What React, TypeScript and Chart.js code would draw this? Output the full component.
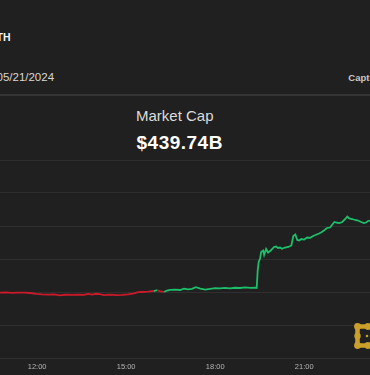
import React, { useEffect, useRef } from "react";
import Chart from "chart.js/auto";

// minutes since midnight on 05/21/2024
const times = [
  645, 657, 669, 681, 694, 706, 718, 730, 742, 754, 766, 778, 791, 803, 815, 823, 831, 839, 847, 855,
  867, 880, 892, 904, 916, 924, 932, 944, 956, 963, 969, 977, 981, 989, 999, 1009, 1017, 1025, 1033, 1041,
  1050, 1060, 1070, 1080, 1090, 1100, 1110, 1120, 1130, 1141, 1151, 1161, 1164, 1166, 1168, 1171, 1173, 1177, 1179, 1183,
  1187, 1191, 1195, 1199, 1203, 1207, 1211, 1215, 1221, 1228, 1234, 1238, 1242, 1246, 1250, 1254, 1260, 1266, 1272, 1278,
  1284, 1290, 1294, 1300, 1306, 1312, 1316, 1321, 1325, 1331, 1337, 1343, 1347, 1351, 1357, 1363, 1369, 1375, 1381, 1385,
  1389, 1393,
];

// market cap, billions USD
const caps = [
  428.89, 428.94, 428.86, 428.92, 428.91, 428.85, 428.73, 428.65, 428.61, 428.64, 428.5, 428.58, 428.56, 428.61, 428.56, 428.71, 428.61, 428.73, 428.67, 428.53,
  428.59, 428.52, 428.55, 428.64, 428.8, 428.97, 429.0, 429.06, 429.15, 429.27, 429.09, 429.01, 429.18, 429.33, 429.36, 429.3, 429.52, 429.41, 429.48, 429.73,
  429.52, 429.36, 429.47, 429.58, 429.55, 429.61, 429.56, 429.64, 429.61, 429.7, 429.64, 429.67, 429.62, 432.33, 433.55, 434.15, 435.06, 435.29, 434.61, 435.51,
  434.98, 435.21, 435.51, 435.82, 435.89, 435.67, 435.74, 435.55, 435.74, 435.82, 436.05, 437.48, 437.71, 436.88, 436.8, 437.03, 436.95, 437.26, 437.21, 437.48,
  437.67, 437.86, 438.02, 438.32, 438.7, 438.77, 439.15, 439.61, 439.53, 439.45, 439.61, 440.06, 440.44, 440.14, 440.06, 439.91, 439.83, 439.61, 439.45, 439.53,
  439.76, 439.83,
];

const baseline = 429.17;
const xTicks = [720, 900, 1080, 1260];
const yTicks = [419, 424, 429, 434, 439, 444, 449];

const GREEN = "#1dbf6a";
const RED = "#cc1a2a";
const BG = "#202020";
const FONT = "'Liberation Sans', Arial, Helvetica, sans-serif";

function fmt(m: number) {
  const h = Math.floor(m / 60);
  const mm = m % 60;
  return `${String(h).padStart(2, "0")}:${String(mm).padStart(2, "0")}`;
}

export default function App() {
  const ref = useRef<HTMLCanvasElement | null>(null);

  useEffect(() => {
    if (!ref.current) return;
    const chart = new Chart(ref.current, {
      type: "line",
      data: {
        datasets: [
          {
            data: times.map((t, i) => ({ x: t, y: caps[i] })),
            borderWidth: 1.8,
            pointRadius: 0,
            tension: 0,
            borderColor: GREEN,
            segment: {
              borderColor: (ctx: any) => (ctx.p1.parsed.y >= baseline ? GREEN : RED),
            },
          },
        ],
      },
      options: {
        animation: false,
        responsive: false,
        devicePixelRatio: 1,
        layout: { padding: { top: 10, bottom: 0, left: 0, right: 0 } },
        plugins: { legend: { display: false }, tooltip: { enabled: false } },
        scales: {
          x: {
            type: "linear",
            min: times[0],
            max: times[times.length - 1],
            grid: { display: false, drawTicks: false },
            border: { display: false },
            afterBuildTicks: (axis: any) => {
              axis.ticks = xTicks.map((v) => ({ value: v }));
            },
            ticks: {
              color: "#b4b4b4",
              font: { size: 7.5, family: FONT },
              padding: 4,
              maxRotation: 0,
              autoSkip: false,
              callback: (v: any) => fmt(Number(v)),
            },
          },
          y: {
            min: yTicks[0],
            max: yTicks[yTicks.length - 1],
            afterBuildTicks: (axis: any) => {
              axis.ticks = yTicks.map((v) => ({ value: v }));
            },
            ticks: { display: false },
            grid: { color: "#2f2f2f", drawTicks: false, lineWidth: 1 },
            border: { display: false },
          },
        },
      },
    } as any);
    return () => chart.destroy();
  }, []);

  const abs = (s: React.CSSProperties): React.CSSProperties => ({
    position: "absolute",
    whiteSpace: "nowrap",
    margin: 0,
    ...s,
  });

  return (
    <div
      style={{
        position: "fixed",
        left: 0,
        top: 0,
        width: 370,
        height: 375,
        background: BG,
        overflow: "hidden",
        fontFamily: FONT,
      }}
    >
      <div style={abs({ left: -10.5, top: 32, fontSize: 10.5, lineHeight: "10.5px", fontWeight: 700, color: "#f4f4f4" })}>ETH</div>
      <div style={abs({ left: -3.5, top: 72.1, fontSize: 11.5, lineHeight: "11.5px", color: "#d8d8d8" })}>05/21/2024</div>
      <div style={abs({ left: 348.3, top: 72.8, fontSize: 9.5, lineHeight: "9.5px", fontWeight: 700, color: "#c8c8c8" })}>Capture</div>
      <div style={abs({ left: 0, top: 94, width: 370, height: 2, background: "#353535" })} />
      <div style={abs({ left: 136, top: 108.3, fontSize: 15, lineHeight: "15px", color: "#dcdcdc" })}>Market Cap</div>
      <div style={abs({ left: 136.5, top: 132.5, fontSize: 19, lineHeight: "19px", fontWeight: 700, letterSpacing: 0.5, color: "#ffffff" })}>$439.74B</div>
      <canvas ref={ref} width={370} height={225} style={{ position: "absolute", left: 0, top: 150, width: 370, height: 225 }} />
      <svg width={370} height={375} style={{ position: "absolute", left: 0, top: 0, pointerEvents: "none" }}>
        <g stroke="#c9a02a" fill="#c9a02a" strokeLinecap="round">
          <path d="M357.5 326.5 H372 M357.5 326.5 V345.5 M357.5 345.5 H372" strokeWidth={4.5} fill="none" />
          <circle cx={357.5} cy={326.5} r={3.4} stroke="none" />
          <circle cx={357.5} cy={336} r={3.2} stroke="none" />
          <circle cx={357.5} cy={345.5} r={3.4} stroke="none" />
          <circle cx={368} cy={326.5} r={3.4} stroke="none" />
          <circle cx={368} cy={345.5} r={3.4} stroke="none" />
          <circle cx={367} cy={336} r={1.3} stroke="none" />
        </g>
      </svg>
    </div>
  );
}
